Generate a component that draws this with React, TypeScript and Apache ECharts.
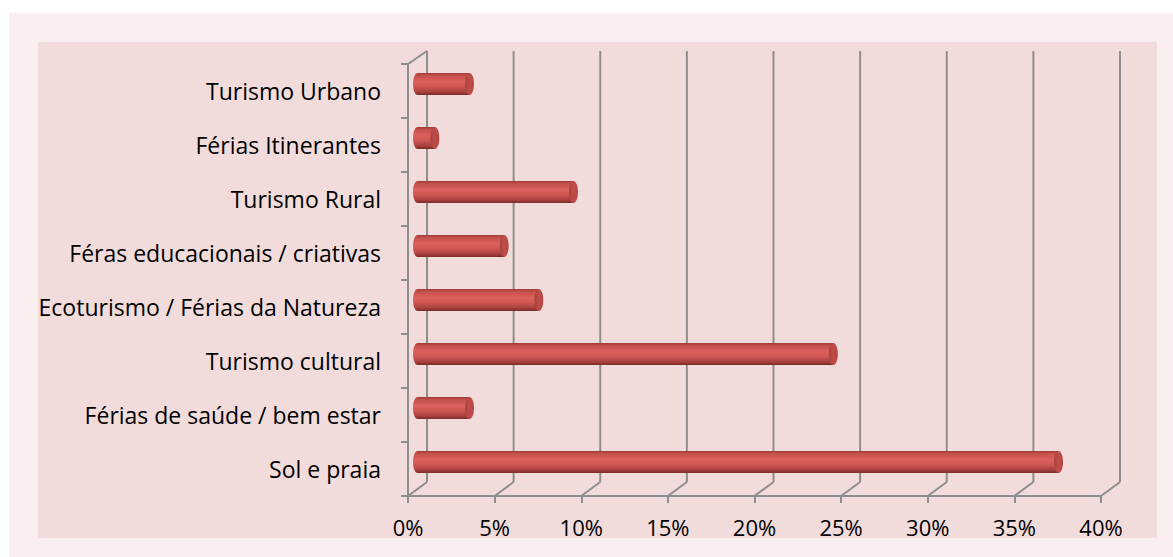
import React, { useEffect, useRef } from "react";
import * as echarts from "echarts";

const categories = [
  "Sol e praia",
  "Férias de saúde / bem estar",
  "Turismo cultural",
  "Ecoturismo / Férias da Natureza",
  "Féras educacionais / criativas",
  "Turismo Rural",
  "Férias Itinerantes",
  "Turismo Urbano",
];
const values = [37, 3, 24, 7, 5, 9, 1, 3];
const xTicks = [0, 5, 10, 15, 20, 25, 30, 35, 40];

const FONT = "'Open Sans', 'Noto Sans', sans-serif";

export default function App() {
  const ref = useRef<HTMLDivElement>(null);
  useEffect(() => {
    const chart = echarts.init(ref.current!, null, { renderer: "svg" });
    const DX = 19;
    const DY = 14;
    const grey = "#8e8e8e";
    const bodyGrad = () =>
      new echarts.graphic.LinearGradient(0, 0, 0, 1, [
        { offset: 0, color: "#9c3b38" },
        { offset: 0.1, color: "#c24e4a" },
        { offset: 0.38, color: "#dc605c" },
        { offset: 0.6, color: "#d35854" },
        { offset: 0.85, color: "#aa4240" },
        { offset: 1, color: "#7a2b29" },
      ]);
    chart.setOption({
      animation: false,
      backgroundColor: "#ffffff",
      graphic: [
        {
          type: "rect",
          z: -10,
          silent: true,
          shape: { x: 9, y: 13, width: 1164, height: 544 },
          style: { fill: "#faeff0" },
        },
        {
          type: "rect",
          z: -9,
          silent: true,
          shape: { x: 38, y: 42, width: 1119, height: 496 },
          style: { fill: "#f2dcdb" },
        },
      ],
      grid: { left: 408, top: 64, width: 693, height: 432 },
      xAxis: {
        type: "value",
        min: 0,
        max: 40,
        interval: 5,
        axisLine: { show: true, lineStyle: { color: grey, width: 2 } },
        axisTick: { show: true, length: 7, lineStyle: { color: grey, width: 2 } },
        splitLine: { show: false },
        axisLabel: {
          formatter: "{value}%",
          fontSize: 22,
          color: "#000",
          margin: 20,
          fontFamily: FONT,
        },
      },
      yAxis: {
        type: "category",
        data: categories,
        axisLine: { show: true, lineStyle: { color: grey, width: 2 } },
        axisTick: { show: true, length: 7, lineStyle: { color: grey, width: 2 } },
        axisLabel: { fontSize: 23, color: "#000", margin: 27, fontFamily: FONT },
      },
      series: [
        {
          type: "custom",
          name: "frame",
          silent: true,
          z: 1,
          encode: { x: 0, y: 1 },
          data: xTicks.map((v) => [v, 0]),
          renderItem: (params: any, api: any) => {
            const v = api.value(0);
            const x = api.coord([v, 0])[0];
            const cs = params.coordSys;
            const top = cs.y;
            const bottom = cs.y + cs.height;
            const ls = { stroke: grey, lineWidth: 2 };
            const children: any[] = [
              {
                type: "line",
                shape: { x1: x + DX, y1: top - DY + 1, x2: x + DX, y2: bottom - DY },
                style: ls,
              },
              {
                type: "line",
                shape: { x1: x, y1: bottom, x2: x + DX, y2: bottom - DY },
                style: ls,
              },
            ];
            if (v === 0) {
              children.push({
                type: "line",
                shape: { x1: x, y1: top, x2: x + DX, y2: top - DY + 1 },
                style: ls,
              });
            }
            return { type: "group", children };
          },
        },
        {
          type: "custom",
          name: "bars",
          z: 3,
          encode: { x: 0, y: 1 },
          data: values.map((v, i) => [v, i]),
          renderItem: (params: any, api: any) => {
            const v = api.value(0);
            const idx = api.value(1);
            const p0 = api.coord([0, idx]);
            const p1 = api.coord([v, idx]);
            const cx0 = p0[0] + DX / 2;
            const cx1 = p1[0] + DX / 2;
            const cy = p0[1] - DY / 2;
            const h = 22;
            const rx = 4.5;
            return {
              type: "group",
              children: [
                {
                  type: "ellipse",
                  shape: { cx: cx0, cy, rx, ry: h / 2 },
                  style: { fill: bodyGrad() },
                },
                {
                  type: "rect",
                  shape: { x: cx0, y: cy - h / 2, width: cx1 - cx0, height: h },
                  style: { fill: bodyGrad() },
                },
                {
                  type: "ellipse",
                  shape: { cx: cx1, cy, rx, ry: h / 2 },
                  style: {
                    fill: new echarts.graphic.LinearGradient(0, 0, 1, 0, [
                      { offset: 0, color: "#a84240" },
                      { offset: 0.5, color: "#c04c48" },
                      { offset: 1, color: "#b54643" },
                    ]),
                  },
                },
              ],
            };
          },
        },
      ],
    });
    return () => chart.dispose();
  }, []);
  return (
    <div
      ref={ref}
      style={{ position: "absolute", left: 0, top: 0, width: 1173, height: 557 }}
    />
  );
}
